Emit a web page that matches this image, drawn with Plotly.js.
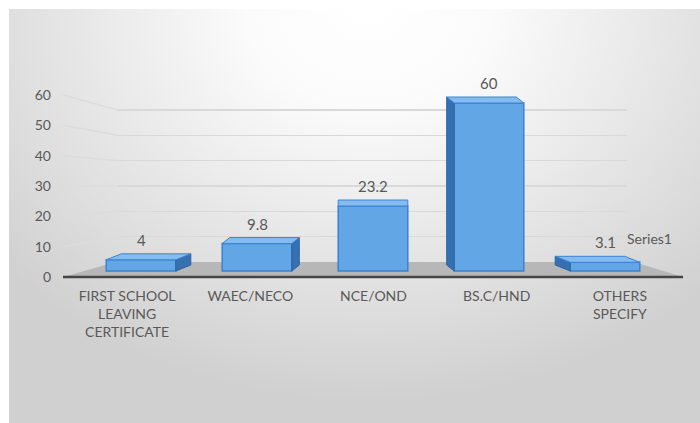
<!DOCTYPE html>
<html>
<head>
<meta charset="utf-8">
<script src="https://cdn.plot.ly/plotly-3.0.1.min.js"></script>
<style>
  html, body { margin: 0; padding: 0; background: #ffffff; }
  #bg { position: absolute; left: 9px; top: 9px; width: 691px; height: 414px;
        background: radial-gradient(ellipse 70% 95% at 52% 0%, #ffffff 0%, #fbfbfb 25%, #e6e6e6 62%, #d0d0d0 100%); }
  #chart { position: absolute; left: 0; top: 0; width: 700px; height: 423px; }
</style>
</head>
<body>
<div id="bg"></div>
<div id="chart"></div>
<script>
// ---- data ----
const categories = ['FIRST SCHOOL<br>LEAVING<br>CERTIFICATE', 'WAEC/NECO', 'NCE/OND', 'BS.C/HND', 'OTHERS<br>SPECIFY'];
const values = [4, 9.8, 23.2, 60, 3.1];
const valueLabels = ['4', '9.8', '23.2', '60', '3.1'];
const yTicks = [0, 10, 20, 30, 40, 50, 60];
const seriesName = 'Series1';

// ---- layout helpers ----
const W = 700, H = 423, T = 60, B = 277;
function rng(v0, p0, v1, p1) {
  const s = (p0 - p1) / (v1 - v0);
  const lo = v0 - (B - p0) / s;
  return [lo, lo + (B - T) / s];
}
const px = x => x / W;
const py = y => (B - y) / (B - T);

const idx = categories.map((_, i) => i);
const unitX = 116, unitY = 2.8;      // px per unit on bar axes
const depthY = 6 / unitY;            // pseudo-3D depth
const halfW = 0.3;

// faces of the pseudo-3D bars, derived from the data
const topX = [], topY = [], sideX = [], sideY = [];
idx.forEach(i => {
  const v = values[i];
  const dx = (2 - i) * 7.5 / unitX;
  topX.push(i - halfW, i + halfW, i + halfW + dx, i - halfW + dx, i - halfW, null);
  topY.push(v, v, v + depthY, v + depthY, v, null);
  if (dx > 0) {
    sideX.push(i + halfW, i + halfW, i + halfW + dx, i + halfW + dx, i + halfW, null);
    sideY.push(0, v, v + depthY, depthY, 0, null);
  } else if (dx < 0) {
    sideX.push(i - halfW, i - halfW, i - halfW + dx, i - halfW + dx, i - halfW, null);
    sideY.push(0, v, v + depthY, depthY, 0, null);
  }
});

const font = 'Lato, "Open Sans", sans-serif';
const txt = '#595959';

const traces = [
  // grid subplot (x, y) - drawn first
  { type: 'scatter', x: [], y: [], xaxis: 'x', yaxis: 'y', hoverinfo: 'skip', showlegend: false },
  // bars subplot (x2, y2)
  { type: 'scatter', x: sideX, y: sideY, xaxis: 'x2', yaxis: 'y2', mode: 'lines', fill: 'toself',
    fillcolor: '#3570b0', line: { color: '#2d64a0', width: 1 }, hoverinfo: 'skip', showlegend: false },
  { type: 'scatter', x: topX, y: topY, xaxis: 'x2', yaxis: 'y2', mode: 'lines', fill: 'toself',
    fillcolor: '#84bcf0', line: { color: '#3c84d4', width: 1 }, hoverinfo: 'skip', showlegend: false },
  { type: 'bar', x: idx, y: values, xaxis: 'x2', yaxis: 'y2', width: 0.6, name: seriesName,
    marker: { color: '#62a6e6', line: { color: '#3a82d2', width: 1.5 } }, showlegend: false },
  // label subplot (x3, y3)
  { type: 'scatter', x: idx, y: values, xaxis: 'x3', yaxis: 'y3', mode: 'none', hoverinfo: 'skip', showlegend: false }
];

const shapes = [
  // floor
  { type: 'path', xref: 'paper', yref: 'paper', layer: 'below',
    path: `M ${px(63)} ${py(277)} L ${px(683)} ${py(277)} L ${px(634)} ${py(262)} L ${px(116)} ${py(262)} Z`,
    fillcolor: '#b7b7b7', line: { width: 0 } },
  // axis line
  { type: 'line', xref: 'paper', yref: 'paper', x0: px(63), x1: px(683), y0: py(277), y1: py(277),
    line: { color: '#454545', width: 2.6 } }
];
// slanted side-wall gridline parts
yTicks.filter(t => t > 0).forEach(t => {
  shapes.push({ type: 'line', xref: 'paper', yref: 'paper', layer: 'below',
    x0: px(63), y0: py(277 - t * 3.033), x1: px(118), y1: py(262 - t * 2.533),
    line: { color: '#dcdcdc', width: 1.5 } });
});

const annotations = idx.map(i => ({
  xref: 'x2', yref: 'y2', x: i, y: values[i], text: valueLabels[i], showarrow: false,
  yanchor: 'middle', yshift: 20, font: { family: font, size: 15, color: txt }
}));
annotations.push({
  xref: 'x2', yref: 'y2', x: 4, y: values[4], text: seriesName, showarrow: false,
  xanchor: 'left', yanchor: 'middle', xshift: 20, yshift: 24,
  font: { family: font, size: 14, color: txt }
});

const layout = {
  width: W, height: H,
  margin: { l: 0, r: 0, t: T, b: H - B, pad: 0 },
  paper_bgcolor: 'rgba(0,0,0,0)', plot_bgcolor: 'rgba(0,0,0,0)',
  showlegend: false,
  font: { family: font, color: txt },
  xaxis: { domain: [px(118), px(627)], range: [0, 1], showgrid: false, zeroline: false,
           showticklabels: false, showline: false, ticks: '', fixedrange: true },
  yaxis: { domain: [0, 1], range: rng(0, 262, 60, 110), tickvals: yTicks.filter(t => t > 0),
           showticklabels: false, showgrid: true, gridcolor: '#d9d9d9', gridwidth: 1.5,
           zeroline: false, showline: false, ticks: '', fixedrange: true },
  xaxis2: { domain: [px(83), px(663)], range: [-0.5, 4.5], anchor: 'y2', showgrid: false, zeroline: false,
            showticklabels: false, showline: false, ticks: '', fixedrange: true },
  yaxis2: { domain: [0, 1], range: rng(0, 271, 60, 103), anchor: 'x2', showgrid: false, zeroline: false,
            showticklabels: false, showline: false, ticks: '', fixedrange: true },
  xaxis3: { domain: [px(65.5), px(681.5)], range: [-0.5, 4.5], anchor: 'y3',
            tickvals: idx, ticktext: categories, showgrid: false, zeroline: false, showline: false,
            ticks: '', ticklabelstandoff: 9, tickfont: { family: font, size: 14, color: txt }, fixedrange: true },
  yaxis3: { domain: [0, 1], range: rng(0, 277, 60, 95), anchor: 'free', position: px(51), side: 'left',
            tickvals: yTicks, showgrid: false, zeroline: false, showline: false, ticks: '',
            tickfont: { family: font, size: 14, color: txt }, fixedrange: true },
  shapes: shapes,
  annotations: annotations
};

Plotly.newPlot('chart', traces, layout, { displayModeBar: false, staticPlot: true });
</script>
</body>
</html>
